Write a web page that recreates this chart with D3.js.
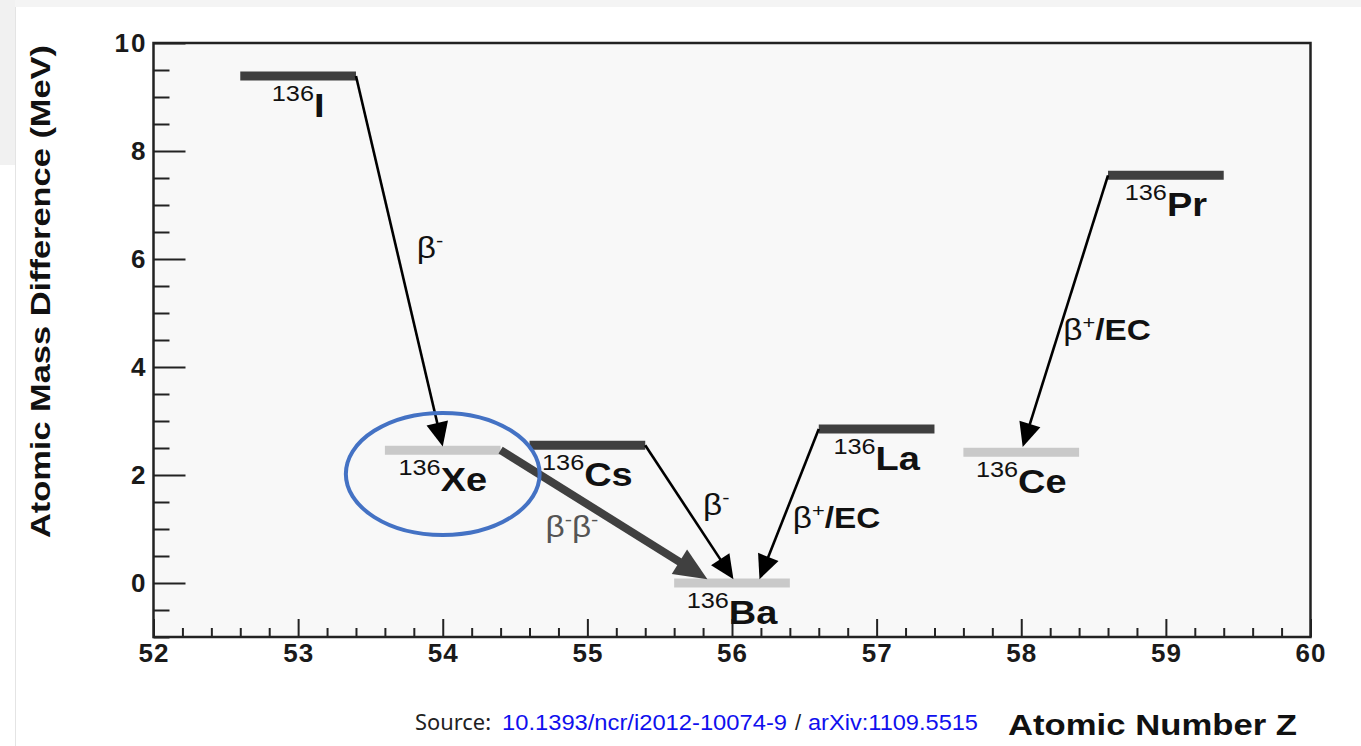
<!DOCTYPE html>
<html>
<head>
<meta charset="utf-8">
<script src="https://cdn.jsdelivr.net/npm/d3@7"></script>
<style>
  html, body { margin: 0; padding: 0; background: #ffffff; }
  svg { display: block; }
</style>
</head>
<body>
<svg id="chart" width="1361" height="746"></svg>
<script>
// ---------------- data ----------------
const massNumber = "136";
const elements   = ["I", "Xe", "Cs", "Ba", "La", "Ce", "Pr"];
const atomicZ    = [53, 54, 55, 56, 57, 58, 59];
const massDiff   = [9.39, 2.46, 2.55, 0.0, 2.85, 2.42, 7.55];   // MeV
const isStable   = [false, true, false, true, false, true, false];

const decayLabels = ["β-", "β-β-", "β-", "β+/EC", "β+/EC"];
const decayDouble = [false, true, false, false, false];
const decayFromZ  = [53.4, 54.4, 55.4, 56.6, 58.6];
const decayFromE  = [9.39, 2.46, 2.55, 2.85, 7.55];
const decayToZ    = [54.0, 55.83, 56.01, 56.19, 58.01];
const decayToE    = [2.53, 0.07, 0.07, 0.07, 2.52];
const decayLabelZ = [53.82, 54.71, 55.80, 56.42, 58.29];
const decayLabelE = [6.02, 0.85, 1.26, 1.02, 4.5];

const xTickValues = [52, 53, 54, 55, 56, 57, 58, 59, 60];
const yTickValues = [0, 2, 4, 6, 8, 10];
const xDomain = [52, 60];
const yDomain = [-1, 10];

const highlightZ = 54.0, highlightE = 2.02, highlightRZ = 0.67, highlightRE = 1.13;

// ---------------- layout ----------------
const svg = d3.select("#chart");
const W = 1361, H = 746;
const plot = { left: 153.5, right: 1310.5, top: 43, bottom: 637 };
const FONT = "'Liberation Sans', Arial, Helvetica, sans-serif";

// page framing (screenshot look)
svg.append("rect").attr("x", 0).attr("y", 0).attr("width", W).attr("height", 7).attr("fill", "#f4f4f4");
svg.append("rect").attr("x", 0).attr("y", 0).attr("width", 15).attr("height", 165).attr("fill", "#f1f1f1");
svg.append("line").attr("x1", 15.5).attr("x2", 15.5).attr("y1", 7).attr("y2", H).attr("stroke", "#e4e4e4").attr("stroke-width", 1);

const x = d3.scaleLinear().domain(xDomain).range([plot.left, plot.right]);
const y = d3.scaleLinear().domain(yDomain).range([plot.bottom, plot.top]);

// plot background
svg.append("rect")
  .attr("x", plot.left).attr("y", plot.top)
  .attr("width", plot.right - plot.left).attr("height", plot.bottom - plot.top)
  .attr("fill", "#f8f8f8");

// minor ticks
const xMinor = d3.range(52, 60.001, 0.2).map(v => +v.toFixed(1)).filter(v => !xTickValues.includes(v));
const yMinor = d3.range(-1, 10.001, 0.5).map(v => +v.toFixed(1)).filter(v => !yTickValues.includes(v));

const gx = svg.append("g").attr("transform", `translate(0,${plot.bottom})`)
  .call(d3.axisBottom(x).tickValues(xTickValues).tickSize(-18).tickPadding(7).tickFormat(d3.format("d")));
const gxMinor = svg.append("g").attr("transform", `translate(0,${plot.bottom})`)
  .call(d3.axisBottom(x).tickValues(xMinor).tickSize(-9).tickFormat(""));
const gy = svg.append("g").attr("transform", `translate(${plot.left},0)`)
  .call(d3.axisLeft(y).tickValues(yTickValues).tickSize(-32).tickPadding(6).tickFormat(d3.format("d")));
const gyMinor = svg.append("g").attr("transform", `translate(${plot.left},0)`)
  .call(d3.axisLeft(y).tickValues(yMinor).tickSize(-16).tickFormat(""));

[gx, gxMinor, gy, gyMinor].forEach(g => {
  g.select(".domain").remove();
  g.selectAll(".tick line").attr("stroke", "#222").attr("stroke-width", 2);
  g.selectAll(".tick text")
    .attr("font-family", FONT).attr("font-weight", "bold").attr("font-size", 26)
    .attr("fill", "#1a1a1a");
});
gx.selectAll(".tick text").attr("letter-spacing", 1);
gy.selectAll(".tick text").attr("letter-spacing", 2);

// frame
svg.append("rect")
  .attr("x", plot.left).attr("y", plot.top)
  .attr("width", plot.right - plot.left).attr("height", plot.bottom - plot.top)
  .attr("fill", "none").attr("stroke", "#222").attr("stroke-width", 2.5);

// ---------------- levels ----------------
const levels = elements.map((el, i) => ({ el, z: atomicZ[i], e: massDiff[i], stable: isStable[i] }));
const halfWidth = 0.4;

svg.append("g").selectAll("line").data(levels).join("line")
  .attr("x1", d => x(d.z - halfWidth)).attr("x2", d => x(d.z + halfWidth))
  .attr("y1", d => y(d.e)).attr("y2", d => y(d.e))
  .attr("stroke", d => d.stable ? "#c9c9c9" : "#3f3f3f")
  .attr("stroke-width", 9);

// level labels
const lab = svg.append("g").selectAll("g").data(levels).join("g")
  .attr("transform", d => `translate(${x(d.z)},${y(d.e) + 41}) scale(1.15,1)`);
const lt = lab.append("text")
  .attr("text-anchor", "middle").attr("font-family", FONT).attr("fill", "#111");
lt.append("tspan").attr("font-size", 22).attr("dy", -16).text(massNumber);
lt.append("tspan").attr("font-size", 33).attr("font-weight", "bold").attr("dy", 16).text(d => d.el);

// ---------------- decays ----------------
const decays = decayLabels.map((l, i) => ({
  label: l, dbl: decayDouble[i],
  x1: x(decayFromZ[i]), y1: y(decayFromE[i]),
  x2: x(decayToZ[i]), y2: y(decayToE[i]),
  lx: x(decayLabelZ[i]), ly: y(decayLabelE[i])
}));

const gd = svg.append("g");
decays.forEach(d => {
  const col = d.dbl ? "#404040" : "#000";
  const headLen = d.dbl ? 33 : 24;
  const headHW = d.dbl ? 14.5 : 11;
  const dx = d.x2 - d.x1, dy = d.y2 - d.y1;
  const len = Math.hypot(dx, dy);
  const ux = dx / len, uy = dy / len;
  const bx = d.x2 - ux * headLen, by = d.y2 - uy * headLen;
  gd.append("line")
    .attr("x1", d.x1).attr("y1", d.y1).attr("x2", bx + ux * 2).attr("y2", by + uy * 2)
    .attr("stroke", col).attr("stroke-width", d.dbl ? 8 : 2.6);
  gd.append("path")
    .attr("d", `M${d.x2},${d.y2} L${bx - uy * headHW},${by + ux * headHW} L${bx + uy * headHW},${by - ux * headHW} Z`)
    .attr("fill", col);

  // label
  const g = gd.append("g").attr("transform", `translate(${d.lx},${d.ly}) scale(1.15,1)`);
  const t = g.append("text").attr("font-family", FONT).attr("font-size", 29)
    .attr("fill", d.dbl ? "#555" : "#111");
  const parts = d.label.match(/β[+-]|\/EC/g);
  let raised = false;
  parts.forEach(p => {
    if (p.startsWith("β")) {
      t.append("tspan").attr("dy", raised ? 11 : 0).text("β");
      t.append("tspan").attr("font-size", 19).attr("dy", -11).text(p[1]);
      raised = true;
    } else {
      t.append("tspan").attr("dy", 11).attr("font-weight", "bold").text(p);
      raised = false;
    }
  });
});

// highlight ellipse
svg.append("ellipse")
  .attr("cx", x(highlightZ)).attr("cy", y(highlightE))
  .attr("rx", x(highlightZ + highlightRZ) - x(highlightZ))
  .attr("ry", y(highlightE - highlightRE) - y(highlightE))
  .attr("fill", "none").attr("stroke", "#4472c4").attr("stroke-width", 4);

// ---------------- axis titles ----------------
svg.append("text")
  .attr("transform", `translate(50,291.5) rotate(-90)`)
  .attr("text-anchor", "middle").attr("font-family", FONT).attr("font-weight", "bold")
  .attr("font-size", 27).attr("fill", "#111")
  .attr("textLength", 493).attr("lengthAdjust", "spacingAndGlyphs")
  .text("Atomic Mass Difference (MeV)");

svg.append("text")
  .attr("x", 1008).attr("y", 735)
  .attr("font-family", FONT).attr("font-weight", "bold").attr("font-size", 29).attr("fill", "#111")
  .attr("textLength", 289).attr("lengthAdjust", "spacingAndGlyphs")
  .text("Atomic Number Z");

// ---------------- source line ----------------
svg.append("text").attr("x", 415).attr("y", 730)
  .attr("font-family", "'Noto Sans', 'Open Sans', sans-serif").attr("font-size", 22).attr("fill", "#222")
  .attr("textLength", 76).attr("lengthAdjust", "spacingAndGlyphs")
  .text("Source:");
svg.append("text").attr("x", 502).attr("y", 730)
  .attr("font-family", FONT).attr("font-size", 22).attr("fill", "#1010ee")
  .attr("textLength", 285).attr("lengthAdjust", "spacingAndGlyphs")
  .text("10.1393/ncr/i2012-10074-9");
svg.append("text").attr("x", 795).attr("y", 730)
  .attr("font-family", FONT).attr("font-size", 22).attr("fill", "#222")
  .text("/");
svg.append("text").attr("x", 808).attr("y", 730)
  .attr("font-family", FONT).attr("font-size", 22).attr("fill", "#1010ee")
  .attr("textLength", 170).attr("lengthAdjust", "spacingAndGlyphs")
  .text("arXiv:1109.5515");
</script>
</body>
</html>
